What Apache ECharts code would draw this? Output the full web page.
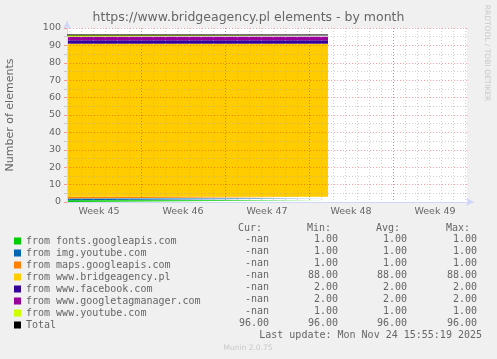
<!DOCTYPE html>
<html><head><meta charset="utf-8">
<script src="https://cdn.jsdelivr.net/npm/echarts@6/dist/echarts.min.js"></script>
<style>html,body{margin:0;padding:0;background:#f0f0f0}#c{width:497px;height:359px}</style>
</head><body><div id="c"></div>
<script>
// ---- data ----
const weekLabels = ['Week 45', 'Week 46', 'Week 47', 'Week 48', 'Week 49'];
const sampleDays = [0, 21.75];
const seriesNames = ['from fonts.googleapis.com', 'from img.youtube.com', 'from maps.googleapis.com',
  'from www.bridgeagency.pl', 'from www.facebook.com', 'from www.googletagmanager.com', 'from www.youtube.com'];
const fontsGoogleapis = [1, 1];
const imgYoutube = [1, 1];
const mapsGoogleapis = [1, 1];
const bridgeagency = [88, 88];
const facebook = [2, 2];
const googletagmanager = [2, 2];
const youtube = [1, 1];
const total = [96, 96];
const curValues = ['-nan', '-nan', '-nan', '-nan', '-nan', '-nan', '-nan', '96.00'];
const minValues = ['1.00', '1.00', '1.00', '88.00', '2.00', '2.00', '1.00', '96.00'];
const avgValues = ['1.00', '1.00', '1.00', '88.00', '2.00', '2.00', '1.00', '96.00'];
const maxValues = ['1.00', '1.00', '1.00', '88.00', '2.00', '2.00', '1.00', '96.00'];
const headerLabels = ['Cur:', 'Min:', 'Avg:', 'Max:'];
const lastUpdate = 'Last update: Mon Nov 24 15:55:19 2025';

// ---- styles ----
const colors = ['#00CC00', '#0066B3', '#FF8000', '#FFCC00', '#330099', '#990099', '#CCFF00'];
const FONT = '#666666';
const MGRID = 'rgba(255,0,0,0.38)';
const GRID = 'rgba(160,160,160,0.5)';
const DAY = 86400000;
const seriesData = [fontsGoogleapis, imgYoutube, mapsGoogleapis, bridgeagency, facebook, googletagmanager, youtube];

const chart = echarts.init(document.getElementById('c'), null, {renderer: 'canvas'});

const series = seriesNames.map((n, k) => ({
  name: n, type: 'line', stack: 'all', xAxisIndex: 0, yAxisIndex: 0,
  data: sampleDays.map((d, i) => [d * DAY, seriesData[k][i]]),
  symbol: 'none', color: colors[k],
  lineStyle: {width: 0}, areaStyle: {color: colors[k], opacity: 1}, z: 2, silent: true
}));
series.push({
  name: 'Total', type: 'line', xAxisIndex: 0, yAxisIndex: 0,
  data: sampleDays.map((d, i) => [d * DAY, total[i]]),
  symbol: 'none', color: '#000', lineStyle: {width: 1, color: '#000'}, z: 6, silent: true
});

const graphic = [];
const rowY0 = 239.7, rowStep = 12;
const colRight = [269, 338, 407, 477];
const monoFont = '10px "DejaVu Sans Mono"';
headerLabels.forEach((h, c) => graphic.push({type: 'text', x: colRight[c] - 7, y: 228.3,
  style: {text: h, font: monoFont, fill: FONT, align: 'right', verticalAlign: 'middle'}}));
[curValues, minValues, avgValues, maxValues].forEach((col, c) => col.forEach((v, r) =>
  graphic.push({type: 'text', x: colRight[c], y: rowY0 + r * rowStep,
    style: {text: v, font: monoFont, fill: FONT, align: 'right', verticalAlign: 'middle'}})));
graphic.push({type: 'text', x: 482, y: 335.3,
  style: {text: lastUpdate, font: monoFont, fill: FONT, align: 'right', verticalAlign: 'middle'}});
graphic.push({type: 'text', x: 248, y: 348.5,
  style: {text: 'Munin 2.0.75', font: '7.5px "DejaVu Sans"', fill: '#c8c8c8', align: 'center', verticalAlign: 'middle'}});
graphic.push({type: 'text', x: 487, y: 53, rotation: -Math.PI / 2,
  style: {text: 'RRDTOOL / TOBI OETIKER', font: '7.5px "DejaVu Sans"', fill: '#c8c8c8', align: 'center', verticalAlign: 'middle'}});

const hidden = {axisLine: {show: false}, axisTick: {show: false}, axisLabel: {show: false}, splitLine: {show: false}};
const gridBase = {outerBoundsMode: 'none', containLabel: false};

chart.setOption({
  animation: false,
  backgroundColor: '#f0f0f0',
  title: {text: 'https://www.bridgeagency.pl elements - by month', left: 'center', top: 11, padding: 0,
    textStyle: {fontFamily: 'DejaVu Sans', fontSize: 12.5, fontWeight: 'normal', color: FONT, lineHeight: 14}},
  legend: {
    data: seriesNames.concat(['Total']), orient: 'vertical', left: 14, top: 235, padding: 0,
    itemWidth: 7, itemHeight: 7, itemGap: 0, icon: 'rect', selectedMode: false,
    textStyle: {fontFamily: 'DejaVu Sans Mono', fontSize: 10, color: FONT, lineHeight: 12}
  },
  grid: [
    Object.assign({left: 67, right: 30, top: 28, bottom: 157, show: true, backgroundColor: '#ffffff', borderWidth: 0}, gridBase),
    Object.assign({left: 69, right: 32, top: 28, bottom: 157}, gridBase),
    Object.assign({left: 57, right: 20, top: 28, bottom: 157}, gridBase),
    Object.assign({left: 67, right: 23, top: 21, bottom: 157}, gridBase)
  ],
  xAxis: [
    Object.assign({gridIndex: 0, type: 'time', min: 0, max: 100 / 3 * DAY}, hidden),
    {gridIndex: 1, type: 'value', min: 0, max: 33, interval: 1, z: 4,
      axisLine: {show: false}, axisTick: {show: false}, axisLabel: {show: false},
      splitLine: {show: true, lineStyle: {color: GRID, type: [1, 2], width: 1}}},
    {gridIndex: 2, type: 'category', data: weekLabels, boundaryGap: true, z: 4,
      axisLine: {show: false}, axisTick: {show: false},
      axisLabel: {interval: 0, margin: 5, fontFamily: 'DejaVu Sans', fontSize: 9.5, color: FONT},
      splitLine: {show: true, interval: 0, showMinLine: false, showMaxLine: false,
        lineStyle: {color: MGRID, type: [1, 2], width: 1}}},
    {gridIndex: 3, type: 'value', min: 0, max: 1, z: 4,
      axisLine: {show: true, onZero: false, symbol: ['none', 'arrow'], symbolSize: [6, 8], lineStyle: {color: '#CFD6F8', width: 1}},
      axisTick: {show: false}, axisLabel: {show: false}, splitLine: {show: false}}
  ],
  yAxis: [
    {gridIndex: 0, type: 'value', min: 0, max: 100, interval: 10, z: 4,
      name: 'Number of elements', nameLocation: 'middle', nameGap: 51, nameRotate: 90,
      nameTextStyle: {fontFamily: 'DejaVu Sans', fontSize: 11, color: FONT},
      axisLine: {show: false},
      axisTick: {show: true, length: 3, lineStyle: {color: MGRID}},
      minorTick: {show: true, splitNumber: 2, length: 3, lineStyle: {color: GRID}},
      axisLabel: {margin: 6, fontFamily: 'DejaVu Sans', fontSize: 9.5, color: FONT},
      splitLine: {show: true, lineStyle: {color: MGRID, type: [1, 2], width: 1}},
      minorSplitLine: {show: true, lineStyle: {color: GRID, type: [1, 2], width: 1}}},
    Object.assign({gridIndex: 1, type: 'value'}, hidden),
    Object.assign({gridIndex: 2, type: 'value'}, hidden),
    {gridIndex: 3, type: 'value', min: 0, max: 1, z: 4,
      axisLine: {show: true, onZero: false, symbol: ['none', 'arrow'], symbolSize: [6, 8], lineStyle: {color: '#CFD6F8', width: 1}},
      axisTick: {show: false}, axisLabel: {show: false}, splitLine: {show: false}}
  ],
  series: series,
  graphic: graphic
});
</script></body></html>
